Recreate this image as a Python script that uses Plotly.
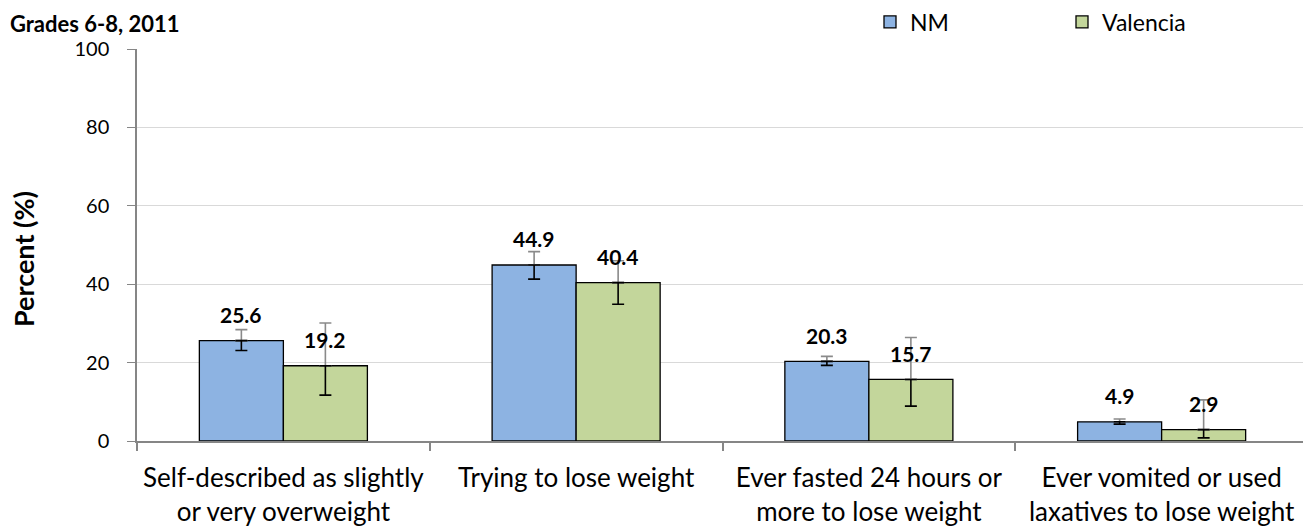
import plotly.graph_objects as go

categories = [
    "Self-described as slightly<br>or very overweight",
    "Trying to lose weight",
    "Ever fasted 24 hours or<br>more to lose weight",
    "Ever vomited or used<br>laxatives to lose weight",
]
nm_values = [25.6, 44.9, 20.3, 4.9]
nm_lower = [23.1, 41.3, 19.3, 4.3]
nm_upper = [28.4, 48.3, 21.6, 5.6]
val_values = [19.2, 40.4, 15.7, 2.9]
val_lower = [11.7, 34.9, 8.9, 0.8]
val_upper = [30.1, 46.0, 26.4, 10.5]
y_ticks = [0, 20, 40, 60, 80, 100]

FONT = "Lato"
BAR_W = 0.287
idx = list(range(len(categories)))
PW, PH = 1171, 392

series = [
    ("NM", nm_values, nm_lower, nm_upper, "#8DB3E2", -BAR_W),
    ("Valencia", val_values, val_lower, val_upper, "#C3D69B", 0.0),
]

fig = go.Figure()
for name, vals, lo, hi, color, off in series:
    fig.add_trace(go.Bar(
        x=idx, y=vals, name=name, width=BAR_W, offset=off,
        marker=dict(color=color, line=dict(color="#000000", width=1.3)),
        hoverinfo="skip",
    ))

for name, vals, lo, hi, color, off in series:
    xs = [i + off + BAR_W / 2 for i in idx]
    fig.add_trace(go.Scatter(
        x=xs, y=vals, mode="markers", showlegend=False, hoverinfo="skip",
        marker=dict(color="rgba(0,0,0,0)", size=1),
        error_y=dict(type="data", symmetric=False,
                     array=[h - v for h, v in zip(hi, vals)],
                     arrayminus=[0] * len(vals),
                     color="#8a8a8a", thickness=1.6, width=6),
    ))
    fig.add_trace(go.Scatter(
        x=xs, y=vals, mode="markers", showlegend=False, hoverinfo="skip",
        marker=dict(color="rgba(0,0,0,0)", size=1),
        error_y=dict(type="data", symmetric=False,
                     array=[0] * len(vals),
                     arrayminus=[v - l for v, l in zip(vals, lo)],
                     color="#000000", thickness=1.6, width=6),
    ))
    for i, v in zip(idx, vals):
        fig.add_annotation(
            x=i + off + BAR_W / 2, y=v, text=f"<b>{v}</b>", showarrow=False,
            yanchor="middle", yshift=26,
            font=dict(family=FONT, size=21, color="#000000"),
        )

fig.add_annotation(
    xref="paper", yref="paper", x=-128 / PW, y=1 + 40 / PH,
    xanchor="left", yanchor="top", borderpad=0, text="<b>Grades 6-8, 2011</b>",
    showarrow=False, font=dict(family=FONT, size=22, color="#000000"),
)
fig.add_annotation(
    xref="paper", yref="paper", x=-114 / PW, y=(441 - 259) / PH,
    xanchor="center", yanchor="middle", textangle=-90,
    text="<b>Percent (%)</b>", showarrow=False,
    font=dict(family=FONT, size=27, color="#000000"),
)

fig.update_layout(
    width=1303, height=523,
    margin=dict(l=129, r=3, t=41, b=90, autoexpand=False),
    paper_bgcolor="white", plot_bgcolor="white",
    barmode="overlay",
    font=dict(family=FONT, color="#000000"),
    legend=dict(
        orientation="h", x=(870 - 137) / PW, y=1 + 27 / PH,
        xanchor="left", yanchor="middle",
        font=dict(family=FONT, size=23, color="#000000"),
        entrywidth=147, entrywidthmode="pixels", traceorder="normal",
        itemwidth=30,
    ),
    xaxis=dict(
        range=[-0.5, len(categories) - 0.5], automargin=False,
        tickmode="array", tickvals=idx, ticktext=categories,
        ticks="", showgrid=False, zeroline=False,
        showline=True, linecolor="#868686", linewidth=1.5,
        tickfont=dict(family=FONT, size=26, color="#000000"),
        ticklabelstandoff=13,
        minor=dict(tickmode="linear", tick0=-0.5, dtick=1, ticks="outside",
                   ticklen=8, tickcolor="#868686", tickwidth=1.5, showgrid=False),
    ),
    yaxis=dict(
        range=[0, 100], tickmode="array", tickvals=y_ticks, automargin=False,
        ticks="outside", ticklen=8, tickcolor="#868686", tickwidth=1.3,
        showline=True, linecolor="#868686", linewidth=1.5,
        showgrid=True, gridcolor="#d9d9d9", gridwidth=1.3, zeroline=False,
        tickfont=dict(family=FONT, size=20, color="#000000"),
        ticklabelstandoff=14,
    ),
)

fig.write_html("out.html")
